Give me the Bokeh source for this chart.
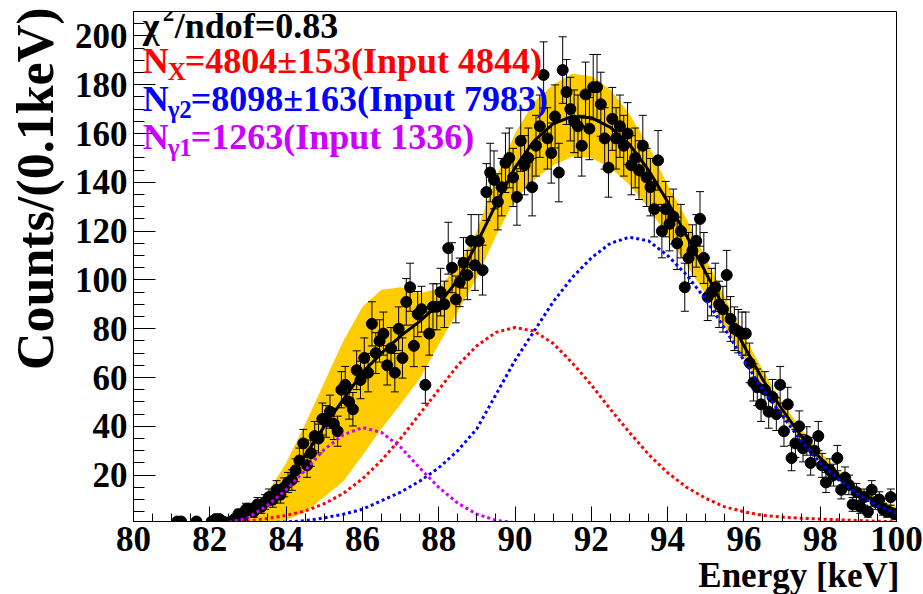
import numpy as np
from bokeh.plotting import figure
from bokeh.models import Label, SingleIntervalTicker, Title
from bokeh.embed import file_html
from bokeh.resources import INLINE

# ---------------- data ----------------
# histogram: counts per 0.1 keV bin, bin centres 81.05 ... 99.95
first_bin_centre = 81.05
bin_width = 0.1
counts = [
    0, 1, 1, 0, 0, 0, 1, 0, 0, 0,            # 81.x
    1, 2, 2, 1, 0, 1, 2, 4, 3, 6,            # 82.x
    6, 5, 8, 7, 9, 11, 10, 14, 12, 15,       # 83.x
    17, 18, 22, 26, 33, 24, 29, 36, 35, 43,  # 84.x
    42, 46, 41, 38, 55, 57, 50, 47, 63, 59,  # 85.x
    68, 62, 82, 70, 75, 78, 65, 72, 62, 80,  # 86.x
    68, 91, 97, 73, 86, 88, 57, 78, 89, 89,  # 87.x
    95, 90, 113, 105, 92, 99, 107, 102, 116, 106,      # 88.x
    116, 104, 136, 144, 141, 132, 138, 148, 150, 142,  # 89.x
    134, 157, 147, 150, 138, 155, 163, 184, 158, 152,  # 90.x
    167, 144, 186, 177, 170, 165, 163, 155, 176, 162,  # 91.x
    179, 179, 172, 158, 146, 166, 158, 163, 155, 160,  # 92.x
    147, 150, 145, 155, 142, 138, 129, 149, 120, 129,  # 93.x
    123, 126, 115, 120, 97, 109, 112, 116, 125, 109,   # 94.x
    93, 95, 97, 90, 88, 102, 84, 80, 79, 78,           # 95.x
    78, 66, 58, 56, 49, 55, 46, 52, 45, 57,            # 96.x
    38, 49, 27, 33, 40, 31, 34, 25, 30, 36,            # 97.x
    24, 17, 22, 20, 27, 14, 19, 16, 8, 13,             # 98.x
    7, 11, 5, 14, 9, 10, 6, 5, 11, 4,                  # 99.x
]

# curves sampled every 0.5 keV from 82.5 to 100.0 keV
curve_e = [82.5, 83.0, 83.5, 84.0, 84.5, 85.0, 85.5, 86.0, 86.5, 87.0, 87.5, 88.0,
           88.5, 89.0, 89.5, 90.0, 90.5, 91.0, 91.5, 92.0, 92.5, 93.0, 93.5, 94.0,
           94.5, 95.0, 95.5, 96.0, 96.5, 97.0, 97.5, 98.0, 98.5, 99.0, 99.5, 100.0]
fit_total = [1.0, 3.5, 9.5, 17.5, 28, 40, 51, 62, 70, 77, 83, 90,
             100, 115, 131, 146, 157, 164, 167, 166.5, 162.5, 155.5, 145, 132,
             118, 103, 88, 73, 59, 47, 36, 27, 19.5, 13.5, 9, 5.5]
band_upper = [0.8, 4, 12.5, 25, 41, 58, 75, 89, 96, 97, 94.5, 96.5,
              106, 120, 142, 160, 173, 180, 184.5, 183.5, 178, 168, 155, 139,
              125, 109, 93, 77, 63, 50, 39, 29.5, 21.5, 15, 10.5, 7]
band_lower = [0.5, 0.8, 0.9, 1.5, 5, 11, 17.5, 28, 39, 49, 59.5, 73.5,
              87, 101, 118, 133, 141, 147, 150.5, 150, 146, 139, 129.5, 118,
              106, 94, 81, 68, 55, 44, 34, 25, 18, 12, 7.5, 4]
comp_x = [0.7, 1.2, 2.2, 3.5, 5.3, 8.3, 12.5, 18.5, 26, 35, 45, 55,
          65, 73, 78.5, 80.5, 79, 74, 66, 57, 47, 37.5, 28.5, 21,
          15, 10.5, 7, 5, 3.5, 2.8, 2.3, 2, 1.7, 1.4, 1.1, 0.9]
comp_g2 = [0.2, 0.35, 0.5, 0.8, 1.3, 2.5, 4, 6, 9.5, 13, 17.5, 23,
           30, 39, 53, 67, 79, 91, 101, 109, 115, 117.5, 116, 110,
           102, 92, 80, 67, 55, 44.5, 34, 25, 18, 12, 7.5, 4.5]
comp_g1 = [0.6, 2.5, 7.5, 14, 22, 30.5, 36.5, 39.5, 37.5, 31.5, 23, 15,
           8.5, 4, 1.5, 0.5, 0.1, 0, 0, 0, 0, 0, 0, 0,
           0, 0, 0, 0, 0, 0, 0, 0, 0, 0, 0, 0]

x_ticks_interval = 2
y_ticks_interval = 20

# ---------------- figure ----------------
FONT = "Liberation Serif"
p = figure(width=923, height=594, x_range=(80, 100), y_range=(1, 210),
           output_backend="svg", toolbar_location=None,
           min_border_left=133, min_border_right=27,
           min_border_top=11, min_border_bottom=73)
p.title.visible = False
p.grid.visible = False
p.background_fill_color = "white"
p.border_fill_color = "white"
p.outline_line_color = "black"
p.outline_line_width = 1

p.xaxis.ticker = SingleIntervalTicker(interval=x_ticks_interval, num_minor_ticks=4)
p.yaxis.ticker = SingleIntervalTicker(interval=y_ticks_interval, num_minor_ticks=4)
for ax in (p.xaxis[0], p.yaxis[0]):
    ax.axis_line_color = "black"
    ax.major_tick_line_color = "black"
    ax.minor_tick_line_color = "black"
    ax.major_tick_out = 0
    ax.minor_tick_out = 0
    ax.major_label_text_font = FONT
    ax.major_label_text_font_style = "bold"
    ax.major_label_text_font_size = "35px"
    ax.major_label_text_color = "black"
    ax.major_label_standoff = 6
p.xaxis.major_tick_in = 15
p.xaxis.minor_tick_in = 8
p.yaxis.major_tick_in = 22
p.yaxis.minor_tick_in = 11
p.xaxis.major_label_standoff = 5

# axis titles, ROOT style: aligned with the far end of each axis
p.add_layout(Title(text="Energy [keV]", align="right", standoff=0, offset=-3,
                   text_font=FONT, text_font_style="bold", text_font_size="35px",
                   text_color="black", text_line_height=0.82), "below")
p.add_layout(Title(text="Counts/(0.1keV)", align="right", standoff=11, offset=-4,
                   vertical_align="top",
                   text_font=FONT, text_font_style="bold", text_font_size="52px",
                   text_color="black", text_line_height=0.8), "left")

# ---------------- glyphs ----------------
e = np.round(first_bin_centre + bin_width * np.arange(len(counts)), 2)
c = np.array(counts, dtype=float)
keep = c > 0
e, c = e[keep], c[keep]
err = np.sqrt(c)

p.varea(x=curve_e, y1=band_lower, y2=band_upper, fill_color="#ffcc00")

p.segment(x0=e, y0=c - err, x1=e, y1=c + err, line_color="black", line_width=1)
p.scatter(x=e, y=c + err, marker="dash", size=8, line_color="black", line_width=1)
p.scatter(x=e, y=c - err, marker="dash", size=8, line_color="black", line_width=1)
p.scatter(x=e, y=c, marker="circle", size=11, fill_color="black", line_color="black")

p.line(curve_e, fit_total, line_color="black", line_width=3)
p.line(curve_e, comp_x, line_color="#ff0000", line_width=3, line_dash="3 3")
p.line(curve_e, comp_g2, line_color="#0000ff", line_width=3, line_dash="3 3")
p.line(curve_e, comp_g1, line_color="#cc00ff", line_width=3, line_dash="3 3")


# ---------------- texts ----------------
def lab(x, y, text, size, color="black", xo=0, yo=0):
    p.add_layout(Label(x=x, y=y, text=text, text_font=FONT, text_font_style="bold",
                       text_font_size=f"{size}px", text_color=color,
                       x_offset=xo, y_offset=yo,
                       text_align="left", text_baseline="alphabetic"))


tx = 80.24
lab(tx, 204.0, "\u03c7", 36)
lab(tx, 204.0, "2", 23, xo=20, yo=13)
lab(tx, 204.0, "/ndof=0.83", 36, xo=32)

lab(tx, 189.7, "N", 36, "#ff0000")
lab(tx, 189.7, "X", 25, "#ff0000", xo=25, yo=-10)
lab(tx, 189.7, "=4804\u00b1153(Input 4844)", 36, "#ff0000", xo=42)

lab(tx, 174.1, "N", 36, "#0000ff")
lab(tx, 174.1, "\u03b32", 25, "#0000ff", xo=25, yo=-10)
lab(tx, 174.1, "=8098\u00b1163(Input 7983)", 36, "#0000ff", xo=48)

lab(tx, 158.5, "N", 36, "#cc00ff")
lab(tx, 158.5, "\u03b31", 25, "#cc00ff", xo=25, yo=-10)
lab(tx, 158.5, "=1263(Input 1336)", 36, "#cc00ff", xo=48)

open("out.html", "w").write(file_html(p, INLINE))
